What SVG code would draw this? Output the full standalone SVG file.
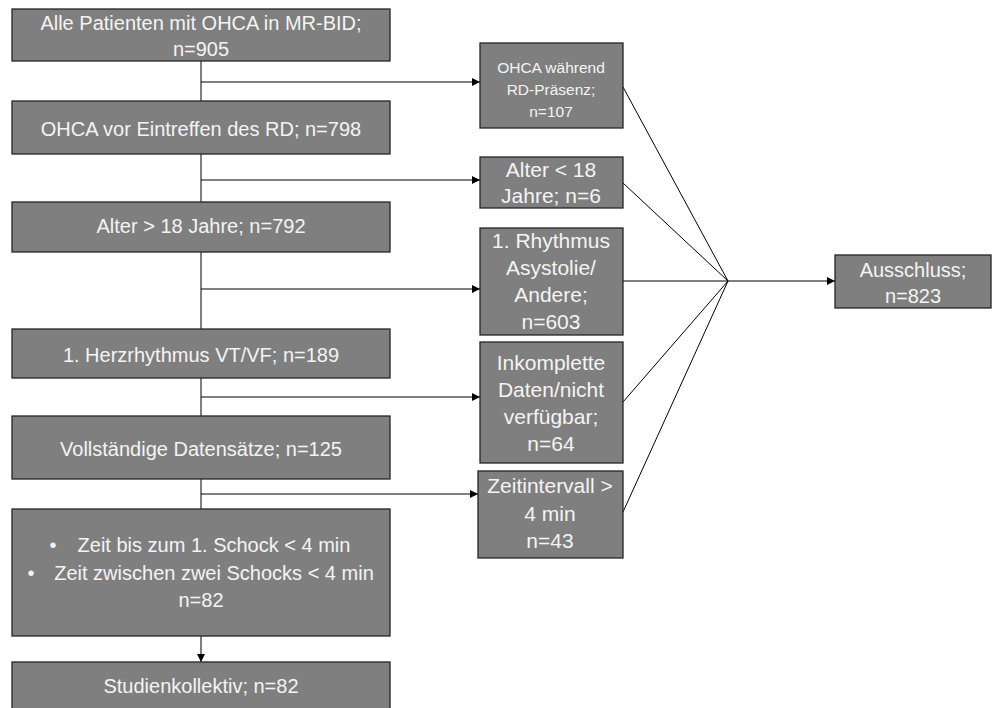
<svg xmlns="http://www.w3.org/2000/svg" width="992" height="708" viewBox="0 0 992 708">
<defs>
<style>
.box{fill:#7f7f7f;stroke:#262626;stroke-width:1.3}
.t{fill:#f4f4f4;font-family:"Liberation Sans",Arial,sans-serif;font-size:20px;text-anchor:middle}
.tr{fill:#f4f4f4;font-family:"Liberation Sans",Arial,sans-serif;font-size:21px;text-anchor:middle}
.ts{fill:#f4f4f4;font-family:"Liberation Sans",Arial,sans-serif;font-size:15.5px;text-anchor:middle}
.ln{fill:none;stroke:#000;stroke-width:1}
</style>
<marker id="ah" viewBox="0 0 10 10" refX="10" refY="5" markerWidth="8" markerHeight="8" markerUnits="userSpaceOnUse" orient="auto">
<path d="M0,0 L10,5 L0,10 z" fill="#000"/>
</marker>
</defs>
<rect width="992" height="708" fill="#fff"/>
<g id="connectors">
<line class="ln" x1="201" y1="61" x2="201" y2="101"/>
<line class="ln" x1="201" y1="154" x2="201" y2="202"/>
<line class="ln" x1="201" y1="252" x2="201" y2="329"/>
<line class="ln" x1="201" y1="378" x2="201" y2="416"/>
<line class="ln" x1="201" y1="479" x2="201" y2="509"/>
<line class="ln" x1="201" y1="636" x2="201" y2="662" marker-end="url(#ah)"/>
<line class="ln" x1="201" y1="82" x2="480" y2="82" marker-end="url(#ah)"/>
<line class="ln" x1="201" y1="180" x2="480" y2="180" marker-end="url(#ah)"/>
<line class="ln" x1="201" y1="289" x2="480" y2="289" marker-end="url(#ah)"/>
<line class="ln" x1="201" y1="397" x2="480" y2="397" marker-end="url(#ah)"/>
<line class="ln" x1="201" y1="494" x2="478" y2="494" marker-end="url(#ah)"/>
<line class="ln" x1="623" y1="87" x2="728" y2="281"/>
<line class="ln" x1="623" y1="183" x2="728" y2="281"/>
<line class="ln" x1="623" y1="281" x2="728" y2="281"/>
<line class="ln" x1="623" y1="402" x2="728" y2="281"/>
<line class="ln" x1="623" y1="512" x2="728" y2="281"/>
<line class="ln" x1="728" y1="281" x2="835" y2="281" marker-end="url(#ah)"/>
</g>
<g id="n1"><rect class="box" x="12" y="9" width="378" height="52"/>
<text class="t" x="201" y="30">Alle Patienten mit OHCA in MR-BID;</text>
<text class="t" x="201" y="56">n=905</text></g>
<g id="n2"><rect class="box" x="12" y="101" width="378" height="53"/>
<text class="t" x="201" y="136">OHCA vor Eintreffen des RD; n=798</text></g>
<g id="n3"><rect class="box" x="12" y="202" width="378" height="50"/>
<text class="t" x="201" y="233">Alter &gt; 18 Jahre; n=792</text></g>
<g id="n4"><rect class="box" x="12" y="329" width="378" height="49"/>
<text class="t" x="201" y="362">1. Herzrhythmus VT/VF; n=189</text></g>
<g id="n5"><rect class="box" x="12" y="416" width="378" height="63"/>
<text class="t" x="201" y="456">Vollständige Datensätze; n=125</text></g>
<g id="n6"><rect class="box" x="12" y="509" width="378" height="127"/>
<text class="t" x="53" y="552">•</text>
<text class="t" x="214" y="552">Zeit bis zum 1. Schock &lt; 4 min</text>
<text class="t" x="31" y="580">•</text>
<text class="t" x="214" y="580">Zeit zwischen zwei Schocks &lt; 4 min</text>
<text class="t" x="201" y="607">n=82</text></g>
<g id="n7"><rect class="box" x="12" y="662" width="378" height="52"/>
<text class="t" x="201" y="693">Studienkollektiv; n=82</text></g>
<g id="r1"><rect class="box" x="480" y="43" width="143" height="85"/>
<text class="ts" x="551" y="73">OHCA während</text>
<text class="ts" x="551" y="95">RD-Präsenz;</text>
<text class="ts" x="551" y="117">n=107</text></g>
<g id="r2"><rect class="box" x="480" y="157" width="143" height="51"/>
<text class="tr" x="551" y="177">Alter &lt; 18</text>
<text class="tr" x="551" y="203">Jahre; n=6</text></g>
<g id="r3"><rect class="box" x="480" y="228" width="143" height="107"/>
<text class="tr" x="551" y="248">1. Rhythmus</text>
<text class="tr" x="551" y="275">Asystolie/</text>
<text class="tr" x="551" y="302">Andere;</text>
<text class="tr" x="551" y="329">n=603</text></g>
<g id="r4"><rect class="box" x="480" y="342" width="143" height="121"/>
<text class="tr" x="551" y="370">Inkomplette</text>
<text class="tr" x="551" y="397">Daten/nicht</text>
<text class="tr" x="551" y="424">verfügbar;</text>
<text class="tr" x="551" y="451">n=64</text></g>
<g id="r5"><rect class="box" x="478" y="471" width="145" height="87"/>
<text class="tr" x="550" y="493">Zeitintervall &gt;</text>
<text class="tr" x="550" y="521">4 min</text>
<text class="tr" x="550" y="548">n=43</text></g>
<g id="ex"><rect class="box" x="835" y="255" width="156" height="53"/>
<text class="t" x="913" y="277">Ausschluss;</text>
<text class="t" x="913" y="303">n=823</text></g>
</svg>
